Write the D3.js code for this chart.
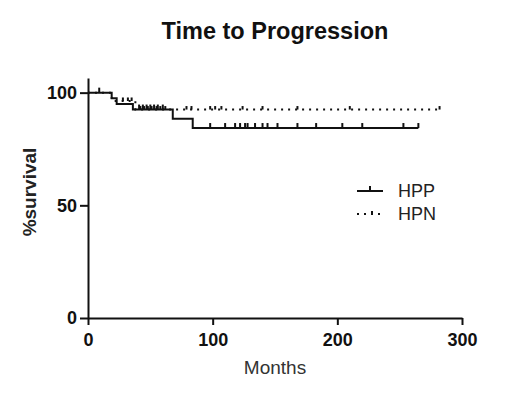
<!DOCTYPE html>
<html><head><meta charset="utf-8">
<script src="https://cdn.jsdelivr.net/npm/d3@7"></script>
<style>
html,body{margin:0;padding:0;background:#fff;}
svg{display:block;}
text{font-family:"Liberation Sans",Arial,sans-serif;}
</style></head>
<body>
<svg id="chart" width="520" height="396"></svg>
<script>
// ---- data ----
const xTicks = [0, 100, 200, 300];
const yTicks = [0, 50, 100];
const seriesNames = ["HPP", "HPN"];
const hppTimes = [0, 19, 23, 36, 68, 84];
const hppSurv = [100, 97.5, 95, 92.5, 88.4, 84.3];
const hppEnd = 265;
const hppCensor = [9, 41, 44, 47, 50, 53, 56, 60, 98, 110, 118, 122, 126, 128, 134, 140, 144, 152, 168, 183, 204, 220, 253, 265];
const hpnTimes = [0, 19, 38];
const hpnSurv = [100, 96.3, 92.5];
const hpnEnd = 284;
const hpnCensor = [28, 32, 35, 42, 45, 48, 51, 55, 58, 62, 79, 83, 98, 102, 107, 124, 140, 168, 210, 282];

const svg = d3.select("#chart");
const x = d3.scaleLinear().domain([0, 300]).range([88, 462]);
const y = d3.scaleLinear().domain([0, 106.5]).range([318, 78]);

// title
svg.append("text").attr("x", 275).attr("y", 39).attr("text-anchor", "middle")
  .attr("font-size", 23.5).attr("font-weight", "bold").attr("fill", "#111").text("Time to Progression");

// axes
const xAxis = svg.append("g").attr("transform", "translate(0,318)")
  .call(d3.axisBottom(x).tickValues(xTicks).tickSize(7).tickSizeOuter(0).tickPadding(8));
const yAxis = svg.append("g").attr("transform", "translate(88,0)")
  .call(d3.axisLeft(y).tickValues(yTicks).tickSize(8).tickSizeOuter(0).tickPadding(3));
[xAxis, yAxis].forEach(g => {
  g.selectAll("path.domain").attr("stroke", "#111").attr("stroke-width", 2);
  g.selectAll(".tick line").attr("stroke", "#111").attr("stroke-width", 2);
  g.selectAll(".tick text").attr("font-size", 18).attr("font-weight", "bold").attr("fill", "#111")
    .style("font-family", '"Liberation Sans",Arial,sans-serif');
});

// axis titles
svg.append("text").attr("x", 275).attr("y", 374).attr("text-anchor", "middle")
  .attr("font-size", 19).attr("fill", "#333").text("Months");
svg.append("text").attr("transform", "translate(36,192) rotate(-90)").attr("text-anchor", "middle")
  .attr("font-size", 19).attr("font-weight", "bold").attr("fill", "#222").text("%survival");

// curves
function pts(times, surv, end) {
  const p = times.map((t, i) => [t, surv[i]]);
  p.push([end, surv[surv.length - 1]]);
  return p;
}
function survAt(times, surv, t) {
  let s = surv[0];
  times.forEach((tt, i) => { if (tt <= t) s = surv[i]; });
  return s;
}
const line = d3.line().x(d => x(d[0])).y(d => y(d[1])).curve(d3.curveStepAfter);

// HPN dotted
svg.append("path").datum(pts(hpnTimes, hpnSurv, hpnEnd)).attr("d", line)
  .attr("fill", "none").attr("stroke", "#111").attr("stroke-width", 2).attr("stroke-dasharray", "2,5");
svg.append("g").selectAll("line").data(hpnCensor).join("line")
  .attr("x1", d => x(d)).attr("x2", d => x(d))
  .attr("y1", d => y(survAt(hpnTimes, hpnSurv, d))).attr("y2", d => y(survAt(hpnTimes, hpnSurv, d)) - 3.5)
  .attr("stroke", "#111").attr("stroke-width", 2);

// HPP solid
svg.append("path").datum(pts(hppTimes, hppSurv, hppEnd)).attr("d", line)
  .attr("fill", "none").attr("stroke", "#111").attr("stroke-width", 2);
svg.append("g").selectAll("line").data(hppCensor).join("line")
  .attr("x1", d => x(d)).attr("x2", d => x(d))
  .attr("y1", d => y(survAt(hppTimes, hppSurv, d))).attr("y2", d => y(survAt(hppTimes, hppSurv, d)) - 5)
  .attr("stroke", "#111").attr("stroke-width", 2);

// legend
const lg = svg.append("g");
lg.append("line").attr("x1", 357).attr("x2", 383).attr("y1", 191).attr("y2", 191)
  .attr("stroke", "#111").attr("stroke-width", 2);
lg.append("line").attr("x1", 370).attr("x2", 370).attr("y1", 191).attr("y2", 186)
  .attr("stroke", "#111").attr("stroke-width", 2);
lg.append("text").attr("x", 398).attr("y", 197).attr("font-size", 18).attr("fill", "#222").text(seriesNames[0]);
lg.append("line").attr("x1", 357).attr("x2", 384).attr("y1", 214).attr("y2", 214)
  .attr("stroke", "#111").attr("stroke-width", 2).attr("stroke-dasharray", "2,5");
lg.append("line").attr("x1", 372).attr("x2", 372).attr("y1", 214).attr("y2", 211)
  .attr("stroke", "#111").attr("stroke-width", 2);
lg.append("text").attr("x", 398).attr("y", 220).attr("font-size", 18).attr("fill", "#222").text(seriesNames[1]);
</script>
</body></html>
